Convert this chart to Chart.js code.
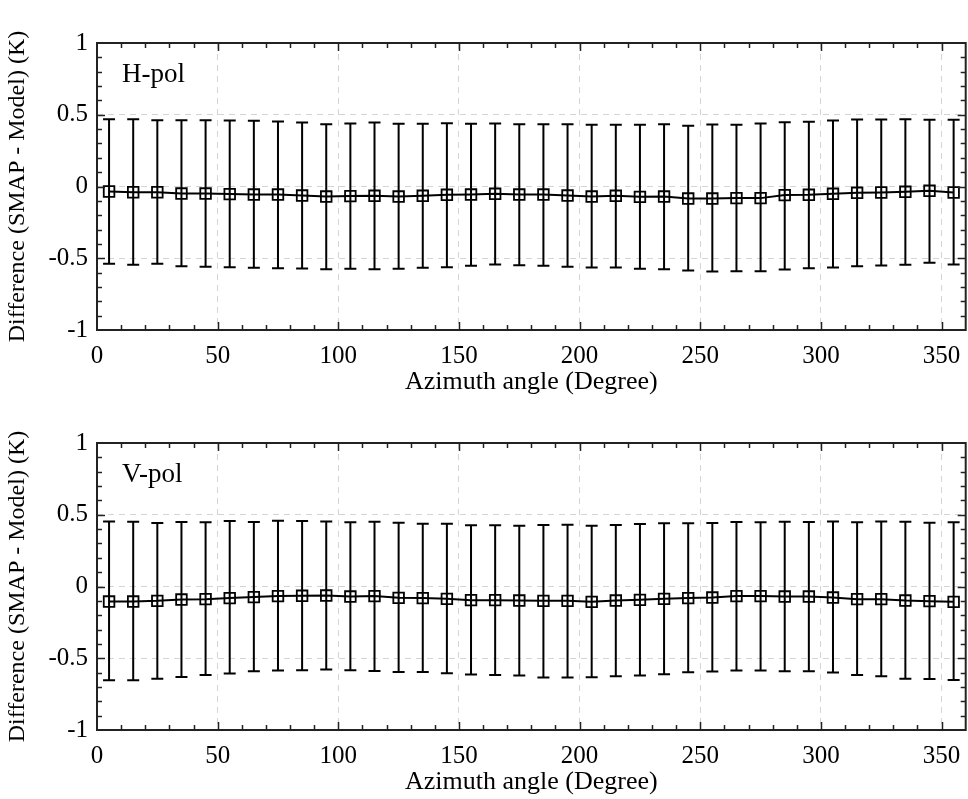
<!DOCTYPE html>
<html>
<head>
<meta charset="utf-8">
<script src="https://cdn.jsdelivr.net/npm/chart.js@4.4.0/dist/chart.umd.min.js"></script>
<style>
  html, body { margin:0; padding:0; background:#fff; overflow:hidden; }
  #wrap { position:relative; width:968px; height:799px; overflow:hidden; }
  canvas { position:absolute; left:0; }
</style>
</head>
<body>
<div id="wrap">
  <canvas id="hChart" width="975" height="400" style="top:0px"></canvas>
  <canvas id="vChart" width="975" height="400" style="top:400px"></canvas>
</div>
<script>
// azimuth bin centres (degree)
var azimuth = [5,15,25,35,45,55,65,75,85,95,105,115,125,135,145,155,165,175,
               185,195,205,215,225,235,245,255,265,275,285,295,305,315,325,335,345,355];
var xTicks = [0,50,100,150,200,250,300,350];
var yTicks = [-1,-0.5,0,0.5,1];

// H-pol: mean difference and error bar ends (K)
var hMean = [-0.035,-0.04,-0.04,-0.049,-0.049,-0.053,-0.056,-0.056,-0.063,-0.07,-0.067,-0.065,-0.07,-0.065,-0.058,-0.056,-0.051,-0.056,
             -0.056,-0.063,-0.07,-0.065,-0.072,-0.07,-0.084,-0.084,-0.081,-0.081,-0.06,-0.058,-0.051,-0.044,-0.042,-0.037,-0.03,-0.042];
var hUpper = [0.469,0.469,0.462,0.462,0.462,0.46,0.458,0.453,0.446,0.434,0.439,0.446,0.437,0.437,0.441,0.437,0.439,0.434,
              0.434,0.434,0.43,0.43,0.43,0.434,0.423,0.432,0.43,0.439,0.448,0.451,0.46,0.467,0.467,0.469,0.465,0.465];
var hLower = [-0.539,-0.546,-0.539,-0.555,-0.56,-0.562,-0.567,-0.569,-0.571,-0.576,-0.574,-0.576,-0.574,-0.567,-0.562,-0.553,-0.544,-0.548,
              -0.553,-0.56,-0.564,-0.564,-0.574,-0.576,-0.585,-0.592,-0.59,-0.59,-0.578,-0.569,-0.564,-0.555,-0.551,-0.546,-0.532,-0.544];

// V-pol
var vMean = [-0.105,-0.105,-0.1,-0.091,-0.088,-0.081,-0.074,-0.067,-0.065,-0.063,-0.07,-0.067,-0.079,-0.081,-0.086,-0.095,-0.095,-0.098,
             -0.1,-0.1,-0.107,-0.098,-0.093,-0.086,-0.081,-0.077,-0.067,-0.067,-0.07,-0.07,-0.077,-0.088,-0.088,-0.098,-0.102,-0.107];
var vUpper = [0.453,0.451,0.442,0.449,0.447,0.456,0.449,0.458,0.456,0.453,0.447,0.451,0.444,0.437,0.437,0.426,0.426,0.423,
              0.428,0.43,0.423,0.428,0.435,0.44,0.44,0.442,0.449,0.447,0.451,0.449,0.453,0.447,0.453,0.451,0.444,0.447];
var vLower = [-0.653,-0.653,-0.642,-0.63,-0.616,-0.607,-0.591,-0.586,-0.584,-0.579,-0.584,-0.588,-0.595,-0.595,-0.605,-0.614,-0.616,-0.621,
              -0.635,-0.635,-0.633,-0.626,-0.621,-0.612,-0.598,-0.593,-0.586,-0.586,-0.591,-0.591,-0.6,-0.616,-0.626,-0.642,-0.644,-0.651];

var SERIF = "'Liberation Serif', 'Times New Roman', serif";

// error bars, drawn under the line and markers
var errorBarPlugin = {
    id:'errorBars',
    beforeDatasetsDraw:function(chart, args, opts){
        var ctx = chart.ctx, xs = chart.scales.x, ys = chart.scales.y;
        ctx.save();
        ctx.strokeStyle = '#000';
        ctx.lineWidth = 2;
        for(var i=0; i<azimuth.length; i++){
            var px = xs.getPixelForValue(azimuth[i]);
            var top = ys.getPixelForValue(opts.upper[i]);
            var bot = ys.getPixelForValue(opts.lower[i]);
            ctx.beginPath();
            ctx.moveTo(px, top); ctx.lineTo(px, bot);
            ctx.moveTo(px-6, top); ctx.lineTo(px+6, top);
            ctx.moveTo(px-6, bot); ctx.lineTo(px+6, bot);
            ctx.stroke();
        }
        ctx.restore();
    }
};

// box with inward major/minor ticks on all four sides, plus panel label
var framePlugin = {
    id:'frame',
    afterDatasetsDraw:function(chart, args, opts){
        var ctx = chart.ctx, a = chart.chartArea, xs = chart.scales.x, ys = chart.scales.y;
        ctx.save();
        ctx.strokeStyle = '#222';
        ctx.lineWidth = 1.5;
        ctx.beginPath();
        for(var v=10; v<360; v+=10){
            var len = (v % 50 == 0) ? 8 : 5;
            var px = Math.round(xs.getPixelForValue(v)) + 0.5;
            ctx.moveTo(px, a.bottom); ctx.lineTo(px, a.bottom-len);
            ctx.moveTo(px, a.top); ctx.lineTo(px, a.top+len);
        }
        for(var k=-9; k<=9; k++){
            var len2 = (k % 5 == 0) ? 8 : 5;
            var py = Math.round(ys.getPixelForValue(k/10)) + 0.5;
            ctx.moveTo(a.left, py); ctx.lineTo(a.left+len2, py);
            ctx.moveTo(a.right, py); ctx.lineTo(a.right-len2, py);
        }
        ctx.stroke();
        ctx.lineWidth = 2;
        ctx.strokeRect(a.left, a.top, a.right-a.left, a.bottom-a.top);
        ctx.fillStyle = '#000';
        ctx.font = '27px ' + SERIF;
        ctx.textBaseline = 'middle';
        ctx.fillText(opts.text, a.left+25, a.top+32);
        ctx.restore();
    }
};

function makePanel(id, mean, upper, lower, text){
    var points = [];
    for(var i=0; i<azimuth.length; i++) points.push({x:azimuth[i], y:mean[i]});
    return new Chart(document.getElementById(id), {
        type:'line',
        data:{
            datasets:[{
                data:points,
                borderColor:'#000',
                borderWidth:2,
                tension:0,
                pointStyle:'rect',
                pointRadius:7.5,
                pointBorderWidth:1.8,
                pointBorderColor:'#000',
                pointBackgroundColor:'rgba(0,0,0,0)'
            }]
        },
        options:{
            responsive:false,
            animation:false,
            events:[],
            layout:{ padding:{ left:3, top:43, right:6, bottom:0 } },
            plugins:{
                legend:{ display:false },
                tooltip:{ enabled:false },
                errorBars:{ upper:upper, lower:lower },
                frame:{ text:text }
            },
            scales:{
                x:{
                    type:'linear', min:0, max:360,
                    afterBuildTicks:function(s){ s.ticks = xTicks.map(function(v){ return {value:v}; }); },
                    afterFit:function(s){ s.height = 70; },
                    grid:{ color:'#d4d4d4', lineWidth:1, drawTicks:false },
                    border:{ display:false, dash:[6,5] },
                    ticks:{ padding:11, maxRotation:0, color:'#000', font:{ family:SERIF, size:25 } },
                    title:{ display:true, text:'Azimuth angle (Degree)', color:'#000', padding:{ top:0, bottom:2 },
                            font:{ family:SERIF, size:26 } }
                },
                y:{
                    type:'linear', min:-1, max:1,
                    afterBuildTicks:function(s){ s.ticks = yTicks.map(function(v){ return {value:v}; }); },
                    afterFit:function(s){ s.width = 94; },
                    grid:{ color:'#d4d4d4', lineWidth:1, drawTicks:false },
                    border:{ display:false, dash:[6,5] },
                    ticks:{ padding:9, color:'#000', font:{ family:SERIF, size:25 },
                            callback:function(v){ return String(v); } },
                    title:{ display:true, text:'Difference (SMAP - Model) (K)', color:'#000', padding:0,
                            font:{ family:SERIF, size:24 } }
                }
            }
        },
        plugins:[errorBarPlugin, framePlugin]
    });
}

makePanel('hChart', hMean, hUpper, hLower, 'H-pol');
makePanel('vChart', vMean, vUpper, vLower, 'V-pol');
</script>
</body>
</html>
